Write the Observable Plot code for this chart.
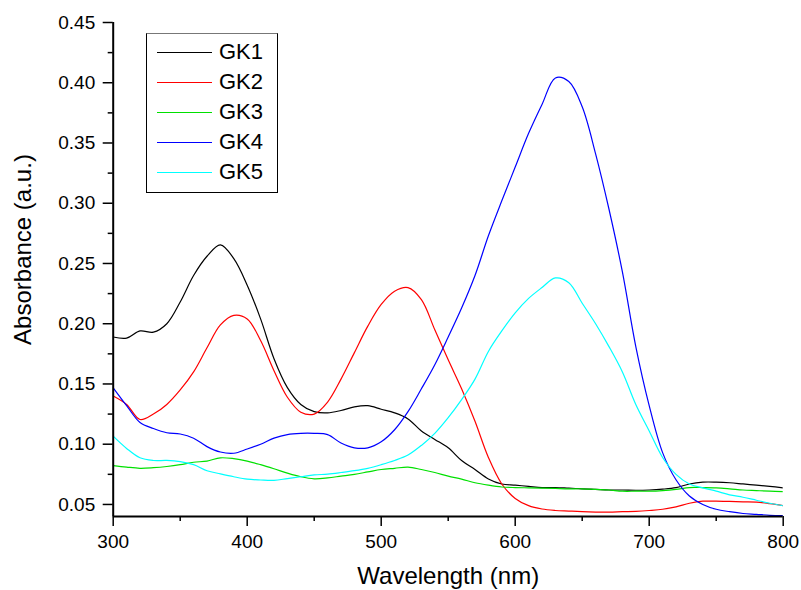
<!DOCTYPE html>
<html>
<head>
<meta charset="utf-8">
<script src="https://cdn.jsdelivr.net/npm/d3@7"></script>
<script src="https://cdn.jsdelivr.net/npm/@observablehq/plot@0.6"></script>
<style>
  html, body { margin: 0; padding: 0; background: white; }
  #wrap { position: relative; width: 801px; height: 590px; overflow: hidden; font-family: "Liberation Sans", Arial, sans-serif; }
  #legend { position: absolute; left: 146px; top: 33px; width: 130px; height: 155px; border: 1px solid #000; border-top-color: #777; background: white; box-sizing: content-box; padding-top: 3px; }
  .row { position: relative; height: 30px; line-height: 30px; font-size: 22px; }
  .row .sw { position: absolute; left: 10px; top: 15px; width: 55px; height: 0; border-top: 1.5px solid; }
  .row .lb { position: absolute; left: 72px; top: 0; }
</style>
</head>
<body>
<div id="wrap"><div id="legend"></div></div>
<script>
const seriesNames = ["GK1", "GK2", "GK3", "GK4", "GK5"];
const seriesColors = ["#000000", "#ff0000", "#00e000", "#0000ff", "#00ffff"];

const wavelengths = [300, 310, 320, 330, 340, 350, 360, 370, 380, 390,
  400, 410, 420, 430, 440, 450, 460, 470, 480, 490,
  500, 510, 520, 530, 540, 550, 560, 570, 580, 590,
  600, 610, 620, 630, 640, 650, 660, 670, 680, 690,
  700, 710, 720, 730, 740, 750, 760, 770, 780, 790, 800];

const gk1 = [0.189, 0.188, 0.194, 0.193, 0.200, 0.218, 0.240, 0.256, 0.2655, 0.254,
  0.232, 0.204, 0.171, 0.147, 0.133, 0.127, 0.126, 0.128, 0.131, 0.132,
  0.129, 0.126, 0.121, 0.111, 0.104, 0.097, 0.0865, 0.079, 0.0712, 0.067,
  0.066, 0.065, 0.064, 0.064, 0.0635, 0.063, 0.0625, 0.062, 0.062, 0.0618,
  0.062, 0.0627, 0.064, 0.067, 0.0685, 0.0685, 0.068, 0.067, 0.066, 0.065, 0.0638];

const gk2 = [0.140, 0.133, 0.1205, 0.125, 0.133, 0.145, 0.160, 0.180, 0.199, 0.207,
  0.204, 0.186, 0.161, 0.139, 0.1266, 0.125, 0.135, 0.154, 0.176, 0.198,
  0.216, 0.227, 0.230, 0.220, 0.195, 0.170, 0.146, 0.119, 0.089, 0.067,
  0.055, 0.049, 0.0462, 0.045, 0.0445, 0.044, 0.0437, 0.0436, 0.044, 0.0443,
  0.045, 0.046, 0.048, 0.051, 0.0527, 0.0527, 0.0525, 0.0522, 0.052, 0.0507, 0.049];

const gk3 = [0.0823, 0.081, 0.080, 0.0805, 0.0815, 0.083, 0.085, 0.086, 0.0887, 0.088,
  0.086, 0.083, 0.0796, 0.076, 0.073, 0.0713, 0.072, 0.0735, 0.075, 0.077,
  0.079, 0.080, 0.081, 0.079, 0.0765, 0.0735, 0.071, 0.068, 0.066, 0.0645,
  0.064, 0.0638, 0.0636, 0.0633, 0.063, 0.063, 0.0625, 0.062, 0.061, 0.061,
  0.061, 0.0615, 0.0625, 0.064, 0.064, 0.0638, 0.063, 0.062, 0.0615, 0.061, 0.0607];

const gk4 = [0.1468, 0.132, 0.118, 0.113, 0.1095, 0.1085, 0.105, 0.098, 0.0935, 0.0925,
  0.096, 0.100, 0.105, 0.108, 0.109, 0.109, 0.108, 0.101, 0.097, 0.097,
  0.102, 0.112, 0.127, 0.146, 0.166, 0.189, 0.213, 0.240, 0.273, 0.302,
  0.330, 0.358, 0.382, 0.404, 0.401, 0.380, 0.341, 0.295, 0.243, 0.181,
  0.132, 0.093, 0.0705, 0.057, 0.050, 0.046, 0.044, 0.0425, 0.0418, 0.041, 0.0408];

const gk5 = [0.1067, 0.0965, 0.0887, 0.0865, 0.0865, 0.0855, 0.083, 0.078, 0.0754, 0.073,
  0.071, 0.0703, 0.070, 0.0715, 0.073, 0.0745, 0.0752, 0.0765, 0.078, 0.080,
  0.083, 0.0865, 0.091, 0.099, 0.109, 0.122, 0.137, 0.154, 0.177, 0.194,
  0.209, 0.221, 0.230, 0.238, 0.234, 0.217, 0.200, 0.181, 0.160, 0.133,
  0.111, 0.089, 0.075, 0.067, 0.0638, 0.061, 0.058, 0.056, 0.0535, 0.051, 0.049];

const xDomain = [300, 800];
const yDomain = [0.04, 0.45];
const xTicks = [300, 400, 500, 600, 700, 800];
const xMinorTicks = [350, 450, 550, 650, 750];
const yTicks = [0.05, 0.10, 0.15, 0.20, 0.25, 0.30, 0.35, 0.40, 0.45];
const yMinorTicks = [0.075, 0.125, 0.175, 0.225, 0.275, 0.325, 0.375, 0.425];
const xLabel = "Wavelength (nm)";
const yLabel = "Absorbance (a.u.)";

const seriesValues = [gk1, gk2, gk3, gk4, gk5];
const table = seriesNames.flatMap((name, i) =>
  wavelengths.map((w, j) => ({series: name, wl: w, abs: seriesValues[i][j]})));

const chart = Plot.plot({
  width: 801,
  height: 590,
  marginLeft: 112.7,
  marginRight: 18.3,
  marginTop: 22,
  marginBottom: 74,
  style: {fontFamily: '"Liberation Sans", Arial, sans-serif', background: "white", color: "black"},
  x: {domain: xDomain},
  y: {domain: yDomain},
  color: {domain: seriesNames, range: seriesColors},
  marks: [
    Plot.line(table, {x: "wl", y: "abs", z: "series", stroke: "series", strokeWidth: 1.2, curve: "catmull-rom", clip: true}),
    Plot.ruleX([xDomain[0]], {y1: yDomain[0], y2: yDomain[1], strokeWidth: 2}),
    Plot.ruleY([yDomain[0]], {x1: xDomain[0], x2: xDomain[1], strokeWidth: 2}),
    Plot.axisX(xTicks, {tickSize: 10, tickPadding: 8, fontSize: 19, label: null, strokeWidth: 1.5}),
    Plot.axisX(xMinorTicks, {tickSize: 5, tickFormat: () => "", label: null, strokeWidth: 1.5}),
    Plot.axisY(yTicks, {tickSize: 10, tickPadding: 8, fontSize: 19, tickFormat: d3.format(".2f"), label: null, strokeWidth: 1.5}),
    Plot.axisY(yMinorTicks, {tickSize: 5, tickFormat: () => "", label: null, strokeWidth: 1.5}),
    Plot.text([yLabel], {text: d => d, frameAnchor: "left", rotate: -90, dx: -82, dy: -20, textAnchor: "middle", lineAnchor: "bottom", fontSize: 24}),
    Plot.text([xLabel], {text: d => d, frameAnchor: "bottom", dy: 67, lineAnchor: "bottom", fontSize: 24})
  ]
});

const wrap = document.getElementById("wrap");
wrap.insertBefore(chart, wrap.firstChild);

const legend = document.getElementById("legend");
seriesNames.forEach((name, i) => {
  const row = document.createElement("div");
  row.className = "row";
  const sw = document.createElement("span");
  sw.className = "sw";
  sw.style.borderTopColor = seriesColors[i];
  const lb = document.createElement("span");
  lb.className = "lb";
  lb.textContent = name;
  row.appendChild(sw);
  row.appendChild(lb);
  legend.appendChild(row);
});
</script>
</body>
</html>
